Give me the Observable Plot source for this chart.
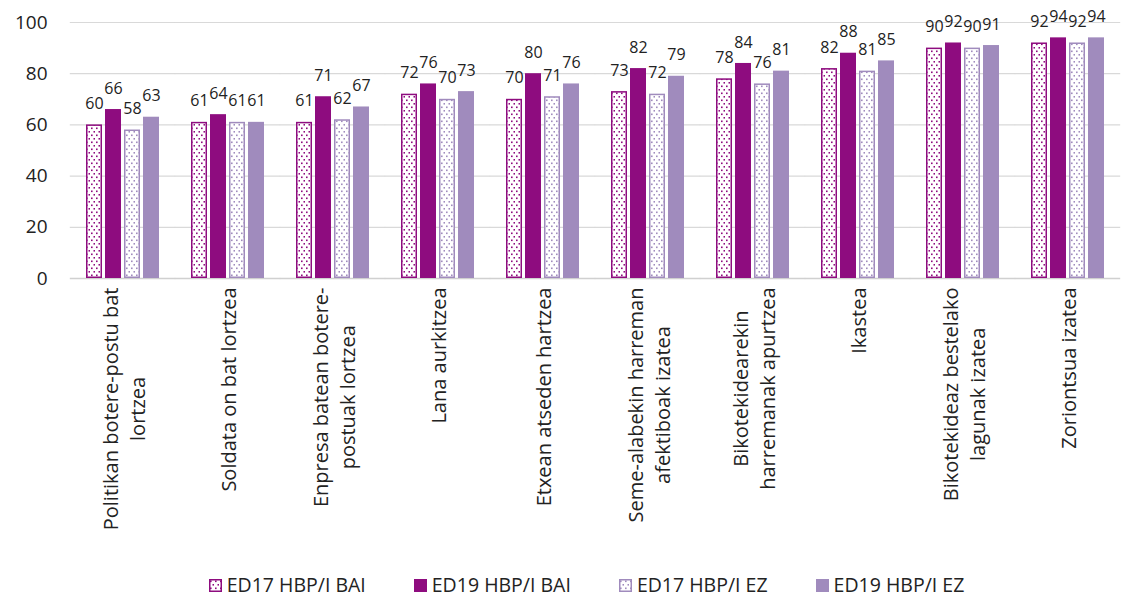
<!DOCTYPE html>
<html><head><meta charset="utf-8">
<script src="https://cdn.jsdelivr.net/npm/d3@7"></script>
<script src="https://cdn.jsdelivr.net/npm/@observablehq/plot@0.6"></script>
<style>
body{margin:0;background:#fff;font-family:"Open Sans",Lato,sans-serif;}
#chart svg{display:block;}
#legend{display:flex;justify-content:center;gap:48px;font-size:19.5px;color:#222;line-height:22px;padding-top:8px;padding-left:52px;}
#legend .item{display:flex;align-items:center;gap:5px;}
</style></head><body>
<svg width="0" height="0" style="position:absolute">
<defs>
<pattern id="dotBAI" patternUnits="userSpaceOnUse" width="5" height="7">
<rect width="5" height="7" fill="#fff"/>
<rect x="1" y="1.5" width="1.6" height="1.6" fill="#8e0c7f"/>
<rect x="3.5" y="5" width="1.6" height="1.6" fill="#8e0c7f"/>
</pattern>
<pattern id="dotEZ" patternUnits="userSpaceOnUse" width="5" height="7">
<rect width="5" height="7" fill="#fff"/>
<rect x="1" y="1.5" width="1.6" height="1.6" fill="#a08bbd"/>
<rect x="3.5" y="5" width="1.6" height="1.6" fill="#a08bbd"/>
</pattern>
</defs></svg>
<div id="chart"></div>
<div id="legend"></div>
<script>
const categories = [
  "Politikan botere-postu bat\nlortzea",
  "Soldata on bat lortzea",
  "Enpresa batean botere-\npostuak lortzea",
  "Lana aurkitzea",
  "Etxean atseden hartzea",
  "Seme-alabekin harreman\nafektiboak izatea",
  "Bikotekidearekin\nharremanak apurtzea",
  "Ikastea",
  "Bikotekideaz bestelako\nlagunak izatea",
  "Zoriontsua izatea"
];
const series = ["ED17 HBP/I BAI", "ED19 HBP/I BAI", "ED17 HBP/I EZ", "ED19 HBP/I EZ"];
const ed17Bai = [60, 61, 61, 72, 70, 73, 78, 82, 90, 92];
const ed19Bai = [66, 64, 71, 76, 80, 82, 84, 88, 92, 94];
const ed17Ez  = [58, 61, 62, 70, 71, 72, 76, 81, 90, 92];
const ed19Ez  = [63, 61, 67, 73, 76, 79, 81, 85, 91, 94];
const yTicks = [0, 20, 40, 60, 80, 100];

const fills = ["url(#dotBAI)", "#8e0c7f", "url(#dotEZ)", "#a08bbd"];
const strokes = ["#8e0c7f", "none", "#a08bbd", "none"];
const values = [ed17Bai, ed19Bai, ed17Ez, ed19Ez];

const rows = categories.flatMap((c, i) => series.map((s, j) => ({cat: c, series: s, value: values[j][i]})));

const barMarks = series.map((s, j) => Plot.barY(rows.filter(d => d.series === s), {
  fx: "cat", x: "series", y: "value",
  fill: fills[j], stroke: strokes[j], strokeWidth: strokes[j] === "none" ? 0 : 1.5,
  inset: strokes[j] === "none" ? 0 : 0.75
}));

const chart = Plot.plot({
  width: 1121, height: 566,
  marginLeft: 70, marginRight: 1, marginTop: 22, marginBottom: 288,
  style: {fontFamily: "'Open Sans', Lato, sans-serif", color: "#222", background: "#fff"},
  fx: {domain: categories, paddingInner: 0.286, paddingOuter: 0.143, label: null, axis: null},
  x: {domain: series, paddingInner: 0.15, paddingOuter: 0, axis: null},
  y: {domain: [0, 100], label: null},
  marks: [
    Plot.ruleY(yTicks.filter(d => d > 0), {stroke: "#d9d9d9", strokeWidth: 1.2, insetLeft: -15.2, insetRight: -15.2}),
    Plot.ruleY([0], {stroke: "#d0d0d0", strokeWidth: 1.5, insetLeft: -15.2, insetRight: -15.2}),
    ...barMarks,
    Plot.text(rows, {fx: "cat", x: "series", y: "value", text: d => String(d.value), dy: -21, fontSize: 16, fill: "#222"}),
    Plot.axisY(yTicks, {tickSize: 0, tickPadding: 38, fontSize: 19, label: null}),
    Plot.axisFx({anchor: "bottom", tickSize: 0, tickPadding: 9, rotate: -90, textAnchor: "end", lineAnchor: "middle", lineHeight: 1.32, fontSize: 20, label: null})
  ]
});
document.getElementById("chart").appendChild(chart);

// center the lines of each multi-line category label
d3.select(chart).selectAll("[aria-label='fx-axis tick label'] text").each(function() {
  const w = this.getBBox().width;
  const t = d3.select(this);
  t.attr("text-anchor", "middle");
  const spans = t.selectAll("tspan");
  if (spans.size()) spans.attr("x", -w / 2); else t.attr("x", -w / 2);
});

// legend
const leg = d3.select("#legend");
series.forEach((s, j) => {
  const it = leg.append("div").attr("class", "item");
  const sv = it.append("svg").attr("width", 13).attr("height", 13);
  sv.append("rect").attr("x", 0.75).attr("y", 0.75).attr("width", 11.5).attr("height", 11.5)
    .attr("fill", fills[j]).attr("stroke", strokes[j] === "none" ? fills[j] : strokes[j]).attr("stroke-width", 1.5);
  it.append("span").text(s);
});
</script>
</body></html>
